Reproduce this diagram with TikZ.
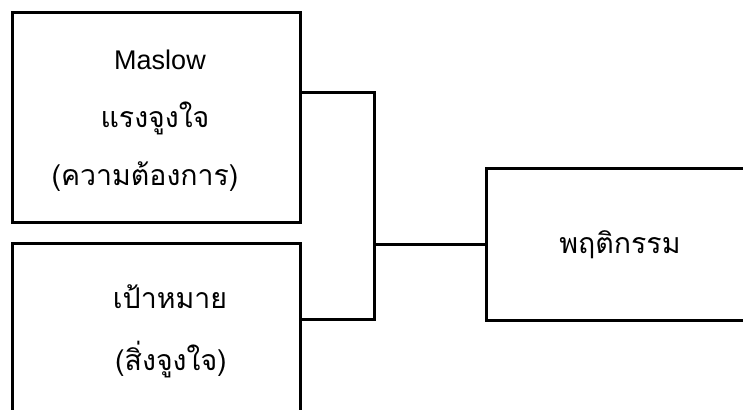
\documentclass[tikz,border=0pt]{standalone}
\usepackage{fontspec}
\setmainfont{Liberation Sans}
\newfontfamily\thaifont[Script=Thai]{Loma}
\begin{document}
\begin{tikzpicture}[x=1pt,y=-1pt,line width=3pt,line join=miter]
\tikzset{
  box/.style={draw,inner sep=0pt,outer sep=0pt,anchor=north west},
  lbl/.style={anchor=base,inner sep=0pt,font=\thaifont\fontsize{28.5}{34}\selectfont},
  latinlbl/.style={anchor=base,inner sep=0pt,font=\fontsize{27}{32}\selectfont}
}
\useasboundingbox (0,0) rectangle (743,409);
\clip (0,0) rectangle (743,409);
\fill[white] (0,0) rectangle (743,409);

% boxes
\node[box,minimum width=288pt,minimum height=209pt] (need) at (12,13) {};
\node[box,minimum width=288pt,minimum height=200pt] (goal) at (12,243) {};
\node[box,minimum width=280pt,minimum height=152pt] (act) at (486,168) {};

% labels
\node[latinlbl] (t1) at (160,70) {Maslow};
\node[lbl] (t2) at (155,127) {แรงจูงใจ};
\node[lbl] (t3) at (145,185) {(ความต้องการ)};
\node[lbl] (t4) at (170,308) {เป้าหมาย};
\node[lbl] (t5) at (171,370) {(สิ่งจูงใจ)};
\node[lbl] (t6) at (620,253) {พฤติกรรม};

% connectors
\coordinate (j) at (374,244);
\draw ([yshift=-80pt]need.north east) -| (j);
\draw ([yshift=-76pt]goal.north east) -| (j);
\draw (j) -- (act.west);
\end{tikzpicture}
\end{document}
